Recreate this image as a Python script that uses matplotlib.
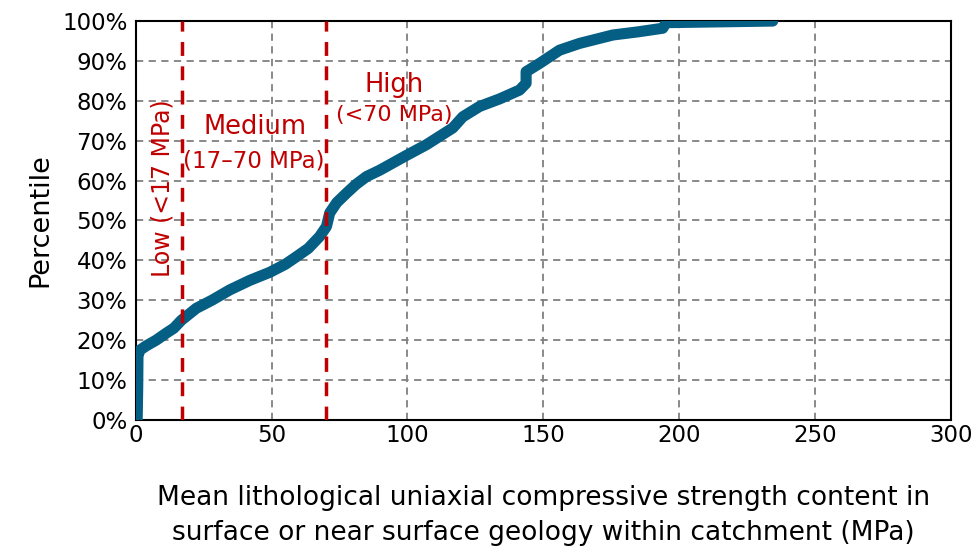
import numpy as np
import matplotlib.pyplot as plt

# cumulative distribution (MPa, percentile %)
ucs_mpa = [0.5, 0.7, 0.8, 1.5, 3.9, 7.5, 11.3, 14.0, 16.8, 22.3, 28.0, 34.6, 42.0, 49.3,
           55.0, 59.1, 63.5, 67.7, 70.2, 71.4, 74.0, 77.5, 81.0, 84.9, 89.8, 99.6, 107.0,
           116.7, 120.4, 126.6, 134.0, 141.3, 143.7, 143.7, 148.7, 156.0, 163.4, 175.6,
           185.0, 194.0, 195.3, 215.0, 234.5]
percentile = [0.0, 8.0, 16.0, 17.5, 18.6, 20.0, 21.8, 23.0, 25.0, 28.0, 30.0, 32.6, 35.0, 37.0,
              39.0, 40.9, 43.0, 46.0, 48.5, 51.9, 54.5, 56.8, 59.0, 61.0, 62.6, 66.3, 69.0,
              73.2, 76.0, 78.6, 80.5, 82.7, 84.4, 87.3, 89.4, 92.7, 94.4, 96.5,
              97.3, 98.2, 99.6, 99.8, 100.0]

class_bounds = [17, 70]
x_ticks = [0, 50, 100, 150, 200, 250, 300]
y_ticks = [0, 10, 20, 30, 40, 50, 60, 70, 80, 90, 100]

plt.rcParams['font.family'] = ['DejaVu Sans']

fig = plt.figure(figsize=(9.77, 5.54), dpi=100)
ax = fig.add_axes([0.139, 0.242, 0.834, 0.720])

red = '#C00000'
ax.plot(ucs_mpa, percentile, color='#055E84', lw=8, solid_capstyle='round',
        solid_joinstyle='round', zorder=3)
for b in class_bounds:
    ax.axvline(b, color=red, lw=2.5, ls=(0, (4, 3)), zorder=4)

ax.set_xlim(0, 300)
ax.set_ylim(0, 100)
ax.set_xticks(x_ticks)
ax.set_yticks(y_ticks)
ax.set_yticklabels([f'{v}%' for v in y_ticks])
ax.tick_params(labelsize=16.5, length=0, pad=6)
ax.tick_params(axis='x', pad=3)
ax.grid(True, color='#808080', ls=(0, (4, 3)), lw=1.3)
for s in ax.spines.values():
    s.set_color('black')
    s.set_linewidth(1.5)

ax.set_ylabel('Percentile', fontsize=19.5, labelpad=6)
ax.set_xlabel('Mean lithological uniaxial compressive strength content in\n'
              'surface or near surface geology within catchment (MPa)',
              fontsize=19, labelpad=27, linespacing=1.45)

ax.text(10, 58, 'Low (<17 MPa)', color=red, fontsize=17, rotation=90,
        ha='center', va='center', zorder=5)
ax.text(44, 73.5, 'Medium', color=red, fontsize=18.5, ha='center', va='center', zorder=5)
ax.text(43.5, 65, '(17\u201370 MPa)', color=red, fontsize=16.5, ha='center', va='center', zorder=5)
ax.text(95, 84, 'High', color=red, fontsize=18.5, ha='center', va='center', zorder=5)
ax.text(95, 76.5, '(<70 MPa)', color=red, fontsize=16, ha='center', va='center', zorder=5)

fig.savefig('out.png', dpi=100)
